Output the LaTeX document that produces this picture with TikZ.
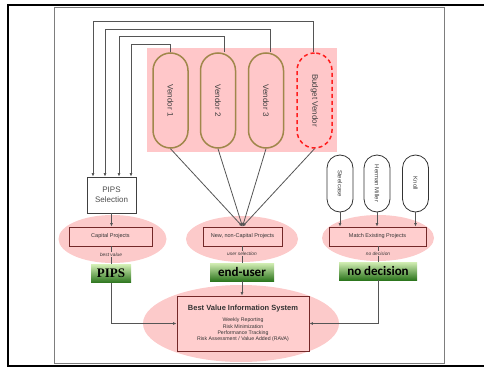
\documentclass[tikz,border=0pt]{standalone}
\usepackage{fontspec}
\setmainfont{Liberation Sans}
\newfontfamily\calfont{Carlito}
\newfontfamily\serfont{Liberation Serif}
\usetikzlibrary{arrows.meta,calc,shapes.geometric}

\definecolor{pinkbg}{RGB}{255,199,201}
\definecolor{ellpink}{RGB}{252,202,202}
\definecolor{boxpink}{RGB}{255,206,206}
\definecolor{boxedge}{RGB}{115,40,40}
\definecolor{vendoredge}{RGB}{160,135,75}
\definecolor{budgetred}{RGB}{255,30,30}
\definecolor{conngray}{RGB}{85,85,85}
\definecolor{framegray}{RGB}{125,125,125}
\definecolor{greentop}{RGB}{210,238,180}
\definecolor{greenbot}{RGB}{45,118,30}

\begin{document}
\begin{tikzpicture}[x=1pt,y=-1pt,
  vendor/.style={draw=vendoredge, line width=1.5pt, fill=pinkbg,
    rounded corners=17.5pt, minimum width=35pt, minimum height=95pt,
    inner sep=0pt, text=black!75, font=\fontsize{8}{9}\selectfont},
  budget/.style={vendor, draw=budgetred, dash pattern=on 4pt off 3pt},
  supplier/.style={draw=black!80, line width=0.8pt, fill=white,
    rounded corners=13pt, minimum width=26pt, minimum height=57pt,
    inner sep=0pt, text=black!75, font=\fontsize{6}{7}\selectfont},
  halo/.style={ellipse, fill=ellpink, inner sep=0pt},
  projbox/.style={draw=boxedge, line width=0.9pt, fill=boxpink,
    minimum height=19pt, inner sep=0pt, text=black!80,
    font=\fontsize{5.5}{6.5}\selectfont},
  selbox/.style={draw=black!75, line width=0.8pt, fill=white,
    minimum width=49pt, minimum height=36pt, inner sep=0pt, align=center,
    text=black!70, font=\fontsize{8}{10}\selectfont},
  greenlab/.style={top color=greentop, bottom color=greenbot,
    minimum height=18pt, inner sep=0pt, text=black,
    font=\calfont\bfseries\fontsize{13}{14}\selectfont},
  choice/.style={fill=ellpink, inner sep=0.6pt, text=black!80,
    font=\itshape\fontsize{4.8}{5.5}\selectfont},
  conn/.style={draw=conngray, line width=0.8pt},
  arr/.style={conn, -{Latex[length=3.5pt,width=3pt]}}
]
\useasboundingbox (0,0) rectangle (484,369);

% frames
\draw[line width=1.8pt] (484,5) -- (8,5) -- (8,366) -- (484,366);
\draw[framegray, line width=1pt] (54,8) rectangle (444,363);

% vendor panel
\fill[pinkbg] (147,48) rectangle (337,152);
\node[vendor] (v1) at (170.5,100.5) {\rotatebox{-90}{Vendor 1}};
\node[vendor] (v2) at (218,100.5) {\rotatebox{-90}{Vendor 2}};
\node[vendor] (v3) at (266,100.5) {\rotatebox{-90}{Vendor 3}};
\node[budget] (v4) at (314.5,100.5) {\rotatebox{-90}{Budget Vendor}};

% PIPS selection
\node[selbox] (ps) at (111.5,195) {PIPS\\Selection};

% halos
\node[halo, minimum width=108pt, minimum height=48pt] (h1) at (112.5,239) {};
\node[halo, minimum width=112pt, minimum height=46pt] (h2) at (242,239) {};
\node[halo, minimum width=112pt, minimum height=46pt] (h3) at (378,238) {};
\node[halo, minimum width=196pt, minimum height=77pt] (h4) at (241,323.5) {};

% project boxes
\node[projbox, minimum width=83pt] (cp) at (110.5,236.5) {Capital Projects};
\node[projbox, minimum width=79pt] (np) at (242.5,236.5) {New, non-Capital Projects};
\node[projbox, minimum width=97pt] (mp) at (377.5,236.5) {Match Existing Projects};

% furniture suppliers
\node[supplier] (s1) at (340,183.5) {\rotatebox{-90}{Steelcase}};
\node[supplier] (s2) at (377,183.5) {\rotatebox{-90}{Herman Miller}};
\node[supplier] (s3) at (415.5,183.5) {\rotatebox{-90}{Knoll}};

% decision labels
\node[greenlab, minimum width=40pt, font=\serfont\bfseries\fontsize{13}{14}\selectfont] (pips) at (111,273.5) {PIPS};
\node[greenlab, minimum width=64pt] (eu) at (242,272) {end-user};
\node[greenlab, minimum width=78pt] (nd) at (378,271) {no decision};

% information system
\node[draw=boxedge, line width=0.9pt, fill=boxpink, minimum width=132pt,
  minimum height=55pt, inner sep=0pt, align=center, text=black!80,
  font=\fontsize{5.2}{6.4}\selectfont] (bv) at (243,323.5)
  {{\bfseries\fontsize{7.5}{9}\selectfont Best Value Information System}\\[5pt]
   Weekly Reporting\\Risk Minimization\\Performance Tracking\\Risk Assessment / Value Added (RAVA)};

% vendor feedback into the PIPS selection
\coordinate (k1) at (93,21);
\coordinate (k2) at (105,29);
\coordinate (k3) at (119,36);
\coordinate (k4) at (131,44);
\draw[arr] ([xshift=-1.5pt]v4.north) |- (k1) -- (k1 |- ps.north);
\draw[arr] ([xshift=4pt]v3.north) |- (k2) -- (k2 |- ps.north);
\draw[arr] ([xshift=6pt]v2.north) |- (k3) -- (k3 |- ps.north);
\draw[arr] (v1.north) |- (k4) -- (k4 |- ps.north);

% vendors into user selection
\draw[arr] (v1.south) -- (np.north);
\draw[arr] (v2.south) -- (np.north);
\draw[arr] (v3.south) -- (np.north);
\draw[arr] (v4.south) -- (np.north);

\draw[arr] (ps.south) -- (ps.south |- cp.north);
\draw[arr] (s1.south) -- (s1.south |- mp.north);
\draw[arr] (s2.south) -- (s2.south |- mp.north);
\draw[arr] (s3.south) -- (s3.south |- mp.north);

% project boxes to decisions
\draw[conn] (cp.south -| pips.north) -- (pips.north) node[choice, pos=0.45] {best value};
\draw[conn] (np.south -| eu.north) -- (eu.north) node[choice, pos=0.45] {user selection};
\draw[conn] (mp.south -| nd.north) -- (nd.north) node[choice, pos=0.45] {no decision};

% decisions into the information system
\draw[arr] (pips.south) |- (bv.west);
\draw[arr] (eu.south) -- (eu.south |- bv.north);
\draw[arr] (nd.south) |- (bv.east);
\end{tikzpicture}
\end{document}
